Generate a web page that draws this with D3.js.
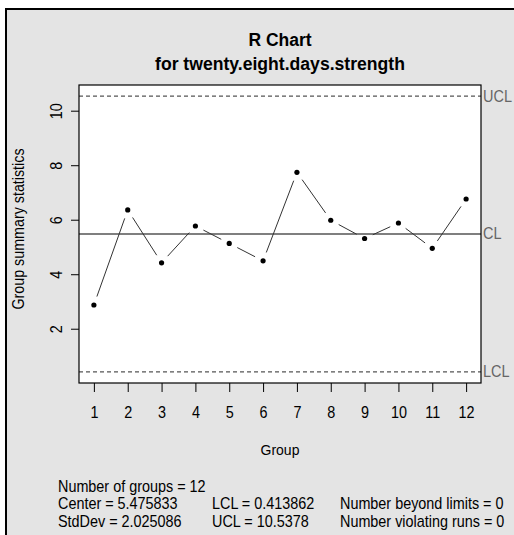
<!DOCTYPE html>
<html lang="en">
<head>
<meta charset="UTF-8">
<title>R Chart for twenty.eight.days.strength</title>
<script src="https://d3js.org/d3.v7.min.js"></script>
<style>
  body { margin: 0; background: #fff; }
  svg text { font-family: "Liberation Sans", Arial, sans-serif; }
</style>
</head>
<body>
<div id="chart"></div>
<script>
  // Data
  const groups = [1, 2, 3, 4, 5, 6, 7, 8, 9, 10, 11, 12];
  const ranges = [2.87, 6.36, 4.42, 5.77, 5.13, 4.49, 7.74, 5.98, 5.31, 5.88, 4.95, 6.76];
  const limits = [
    { name: "UCL", value: 10.5378, dashed: true },
    { name: "CL", value: 5.475833, dashed: false },
    { name: "LCL", value: 0.413862, dashed: true }
  ];
  const yTicks = [2, 4, 6, 8, 10];
  const statsLines = [
    ["Number of groups = 12", "", ""],
    ["Center = 5.475833", "LCL = 0.413862", "Number beyond limits = 0"],
    ["StdDev = 2.025086", "UCL = 10.5378", "Number violating runs = 0"]
  ];

  const W = 514, H = 535;
  const box = { left: 79, right: 481, top: 85, bottom: 383 };
  const fontFam = "Liberation Sans, Arial, sans-serif";
  const tall = "scale(1,1.09)";   // glyphs in the original render a bit taller than wide

  const svg = d3.select("#chart").append("svg")
    .attr("width", W).attr("height", H);

  // figure background with border (cut off at right and bottom)
  svg.append("rect").attr("x", 6).attr("y", 9).attr("width", W).attr("height", H)
    .attr("fill", "#e4e4e4").attr("stroke", "#000").attr("stroke-width", 2);

  // plot region
  svg.append("rect")
    .attr("x", box.left).attr("y", box.top)
    .attr("width", box.right - box.left).attr("height", box.bottom - box.top)
    .attr("fill", "#fff");

  // R style 4% padding on both axes
  const x = d3.scaleLinear()
    .domain([1 - 0.44, 12 + 0.44])
    .range([box.left, box.right]);
  const yMin = d3.min(limits, d => d.value), yMax = d3.max(limits, d => d.value);
  const pad = (yMax - yMin) * 0.04;
  const y = d3.scaleLinear()
    .domain([yMin - pad, yMax + pad])
    .range([box.bottom, box.top]);

  // axes
  const xAxis = svg.append("g")
    .attr("transform", `translate(0,${box.bottom})`)
    .call(d3.axisBottom(x).tickValues(groups).tickSize(9));
  xAxis.select(".domain").remove();
  xAxis.selectAll("line").attr("stroke", "#000");
  xAxis.selectAll("text")
    .attr("y", null).attr("dy", null)
    .attr("transform", `translate(0,35) ${tall}`)
    .attr("font-size", 14.4).attr("fill", "#000")
    .style("font-family", fontFam);

  const yAxis = svg.append("g")
    .attr("transform", `translate(${box.left},0)`)
    .call(d3.axisLeft(y).tickValues(yTicks).tickSize(8).tickFormat(d3.format("d")));
  yAxis.select(".domain").remove();
  yAxis.selectAll("line").attr("stroke", "#000");
  yAxis.selectAll("text")
    .attr("font-size", 14.4).attr("fill", "#000")
    .attr("text-anchor", "middle").attr("dy", null)
    .attr("x", null)
    .attr("transform", `translate(-17,0) rotate(-90) ${tall}`)
    .style("font-family", fontFam);

  // control limits
  svg.selectAll(".limit")
    .data(limits)
    .join("line")
    .attr("class", "limit")
    .attr("x1", box.left).attr("x2", box.right)
    .attr("y1", d => y(d.value)).attr("y2", d => y(d.value))
    .attr("stroke", d => d.dashed ? "#555" : "#000")
    .attr("stroke-width", d => d.dashed ? 1.3 : 1.2)
    .attr("stroke-dasharray", d => d.dashed ? "4,3" : null);

  svg.selectAll(".limit-label")
    .data(limits)
    .join("text")
    .attr("class", "limit-label")
    .attr("transform", d => `translate(${box.right + 2},${y(d.value) + 5.5}) ${tall}`)
    .attr("font-size", 14.5)
    .attr("fill", "#666")
    .text(d => d.name);

  // type "b" lines: segments with gaps around the points
  const pts = groups.map((g, i) => [x(g), y(ranges[i])]);
  const gap = 9;
  const segs = d3.pairs(pts).map(([a, b]) => {
    const dx = b[0] - a[0], dy = b[1] - a[1];
    const len = Math.hypot(dx, dy);
    const ux = dx / len, uy = dy / len;
    return [a[0] + ux * gap, a[1] + uy * gap, b[0] - ux * gap, b[1] - uy * gap];
  });
  svg.selectAll(".seg")
    .data(segs)
    .join("line")
    .attr("class", "seg")
    .attr("x1", d => d[0]).attr("y1", d => d[1])
    .attr("x2", d => d[2]).attr("y2", d => d[3])
    .attr("stroke", "#333").attr("stroke-width", 1);

  svg.selectAll(".pt")
    .data(groups)
    .join("circle")
    .attr("class", "pt")
    .attr("cx", d => x(d))
    .attr("cy", (d, i) => y(ranges[i]))
    .attr("r", 2.6)
    .attr("fill", "#000");

  // box outline
  svg.append("rect")
    .attr("x", box.left).attr("y", box.top)
    .attr("width", box.right - box.left).attr("height", box.bottom - box.top)
    .attr("fill", "none").attr("stroke", "#000").attr("stroke-width", 1.2);

  // titles
  svg.append("text")
    .attr("x", 280).attr("y", 45.5)
    .attr("text-anchor", "middle").attr("font-size", 17.5).attr("font-weight", "bold")
    .text("R Chart");
  svg.append("text")
    .attr("x", 280).attr("y", 69.5)
    .attr("text-anchor", "middle").attr("font-size", 17.6).attr("font-weight", "bold")
    .text("for twenty.eight.days.strength");

  svg.append("text")
    .attr("transform", `translate(${(box.left + box.right) / 2},455) ${tall}`)
    .attr("text-anchor", "middle").attr("font-size", 14)
    .text("Group");

  svg.append("text")
    .attr("transform", `translate(23.5,229) rotate(-90) ${tall}`)
    .attr("text-anchor", "middle").attr("font-size", 14.3)
    .text("Group summary statistics");

  // summary statistics below the chart
  const colX = [58, 212, 340];
  statsLines.forEach((row, r) => {
    row.forEach((t, c) => {
      if (!t) return;
      svg.append("text")
        .attr("transform", `translate(${colX[c]},${491.7 + r * 17.7}) ${tall}`)
        .attr("font-size", 14.4)
        .text(t);
    });
  });
</script>
</body>
</html>
